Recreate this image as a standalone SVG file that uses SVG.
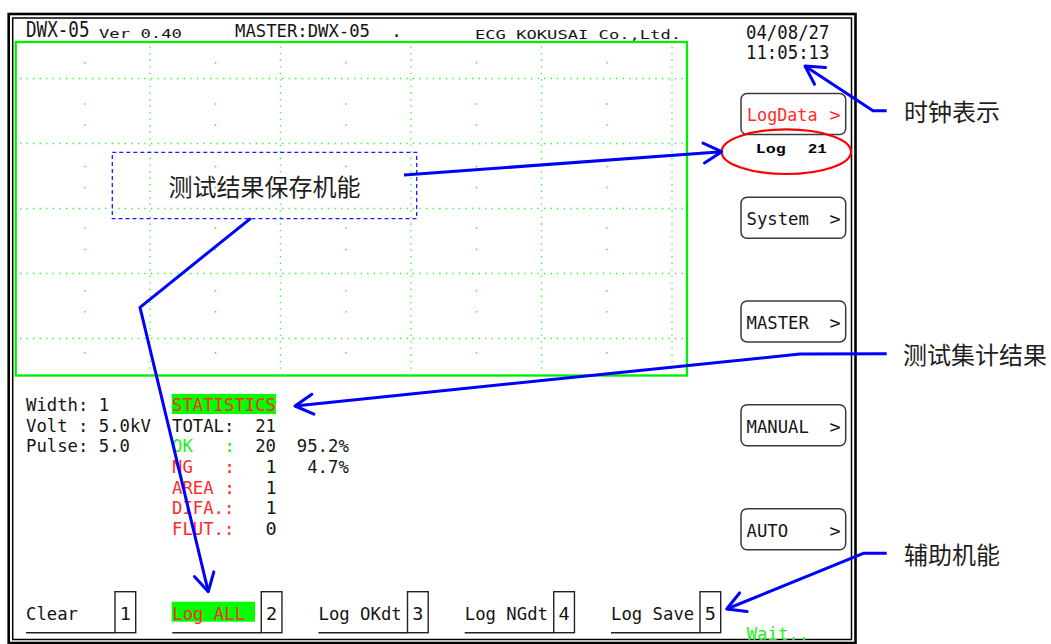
<svg xmlns="http://www.w3.org/2000/svg" width="1051" height="644" viewBox="0 0 1051 644">
  <style>
    .scr { font-family: "DejaVu Sans Mono", "Liberation Mono", monospace; font-size: 18.5px; fill: #151515; }
    .big { font-size: 21px; }
    .clk { font-size: 19px; }
    .small { font-size: 13px; }
    .co { font-size: 13px; }
    .red { fill: #ff2a2a; }
    .grn { fill: #22ee22; }
    .cnt { font-family: "Liberation Mono", monospace; font-weight: bold; font-size: 13.5px; fill: #000000; }
    .lbl { font-family: "Noto Sans CJK SC", "Noto Sans", sans-serif; font-size: 24px; fill: #1e1e1e; }
    .btn { fill: #ffffff; stroke: #3a3a3a; stroke-width: 1.5; }
    .key { fill: none; stroke: #222222; stroke-width: 1.4; }
    .grid { fill: none; stroke: #22ff22; stroke-width: 1.3; stroke-dasharray: 1.3 5.25; }
    .tick { fill: none; stroke: #22ff22; stroke-width: 1.4; }
    .conn { fill: none; stroke: #0000ff; stroke-width: 3; stroke-linejoin: round; marker-end: url(#open); }
  </style>
  <defs>
    <marker id="open" markerUnits="userSpaceOnUse" viewBox="-22 -13 26 26" markerWidth="26" markerHeight="26" refX="0" refY="0" orient="auto">
      <path d="M-18,-10 L0,0 L-18,10" fill="none" stroke="#0000ff" stroke-width="3" stroke-linejoin="round" stroke-linecap="round"/>
    </marker>
  </defs>

  <rect width="1051" height="644" fill="#ffffff"/>

  <!-- screen frame: double border -->
  <g id="frame">
    <rect x="8.7" y="14" width="846.8" height="629" fill="none" stroke="#000" stroke-width="2.6"/>
    <rect x="12.7" y="18" width="838.8" height="621.5" fill="none" stroke="#000" stroke-width="1.5"/>
  </g>

  <!-- header line -->
  <g id="header">
    <text class="scr big" x="26" y="37.3" textLength="63.5" lengthAdjust="spacingAndGlyphs">DWX-05</text>
    <text class="scr small" x="99" y="37.7" textLength="83" lengthAdjust="spacingAndGlyphs">Ver 0.40</text>
    <text class="scr" x="235" y="37" textLength="135" lengthAdjust="spacingAndGlyphs">MASTER:DWX-05</text>
    <text class="scr" x="391" y="37">.</text>
    <text class="scr co" x="475" y="39.3" textLength="206" lengthAdjust="spacingAndGlyphs">ECG KOKUSAI Co.,Ltd.</text>
  </g>

  <g id="clock">
    <text class="scr clk" x="746" y="39.3" textLength="83.5" lengthAdjust="spacingAndGlyphs">04/08/27</text>
    <text class="scr clk" x="746" y="59.3" textLength="83.5" lengthAdjust="spacingAndGlyphs">11:05:13</text>
  </g>

  <!-- waveform area -->
  <g id="waveform">
    <path class="grid" d="M20 78.5H686M20 143.5H686M20 208.5H686M20 273.5H686M20 338.5H686"/>
    <path class="grid" d="M150 46.5V373M280.5 46.5V373M411 46.5V373M541.5 46.5V373M672 46.5V373"/>
    <path class="tick" d="M84.3 62.7h1.4M84.3 104h1.4M84.3 125h1.4M84.3 166.5h1.4M84.3 187.5h1.4M84.3 228.3h1.4M84.3 249.5h1.4M84.3 290.7h1.4M84.3 311.7h1.4M84.3 352.7h1.4
      M214.8 62.7h1.4M214.8 104h1.4M214.8 125h1.4M214.8 166.5h1.4M214.8 187.5h1.4M214.8 228.3h1.4M214.8 249.5h1.4M214.8 290.7h1.4M214.8 311.7h1.4M214.8 352.7h1.4
      M345.3 62.7h1.4M345.3 104h1.4M345.3 125h1.4M345.3 166.5h1.4M345.3 187.5h1.4M345.3 228.3h1.4M345.3 249.5h1.4M345.3 290.7h1.4M345.3 311.7h1.4M345.3 352.7h1.4
      M475.8 62.7h1.4M475.8 104h1.4M475.8 125h1.4M475.8 166.5h1.4M475.8 187.5h1.4M475.8 228.3h1.4M475.8 249.5h1.4M475.8 290.7h1.4M475.8 311.7h1.4M475.8 352.7h1.4
      M606.3 62.7h1.4M606.3 104h1.4M606.3 125h1.4M606.3 166.5h1.4M606.3 187.5h1.4M606.3 228.3h1.4M606.3 249.5h1.4M606.3 290.7h1.4M606.3 311.7h1.4M606.3 352.7h1.4"/>
    <rect x="15.7" y="42" width="671.3" height="333.5" fill="none" stroke="#00ee00" stroke-width="2.3"/>
  </g>

  <!-- soft keys on the right -->
  <g id="key-logdata">
    <rect class="btn" x="741" y="93.5" width="104.7" height="41" rx="6"/>
    <text class="scr red" x="747" y="120.8" textLength="70.5" lengthAdjust="spacingAndGlyphs">LogData</text>
    <text class="scr red" x="829.5" y="120.8">&gt;</text>
  </g>
  <g id="log-count">
    <text class="cnt" x="755.7" y="153.3" textLength="30" lengthAdjust="spacingAndGlyphs">Log</text>
    <text class="cnt" x="807.7" y="153.3" textLength="19" lengthAdjust="spacingAndGlyphs">21</text>
    <ellipse cx="786.3" cy="151.7" rx="64.7" ry="22.3" fill="none" stroke="#ff0000" stroke-width="2.2"/>
  </g>
  <g id="key-system">
    <rect class="btn" x="741" y="197.3" width="104.7" height="41" rx="6"/>
    <text class="scr" x="746.5" y="224.6" textLength="62.4" lengthAdjust="spacingAndGlyphs">System</text>
    <text class="scr" x="829.5" y="224.6">&gt;</text>
  </g>
  <g id="key-master">
    <rect class="btn" x="741" y="300.9" width="104.7" height="41" rx="6"/>
    <text class="scr" x="746.5" y="328.8" textLength="62.4" lengthAdjust="spacingAndGlyphs">MASTER</text>
    <text class="scr" x="829.5" y="328.8">&gt;</text>
  </g>
  <g id="key-manual">
    <rect class="btn" x="741" y="404.7" width="104.7" height="41" rx="6"/>
    <text class="scr" x="746.5" y="432.6" textLength="62.4" lengthAdjust="spacingAndGlyphs">MANUAL</text>
    <text class="scr" x="829.5" y="432.6">&gt;</text>
  </g>
  <g id="key-auto">
    <rect class="btn" x="741" y="508.7" width="104.7" height="41" rx="6"/>
    <text class="scr" x="746.5" y="536.6" textLength="41.6" lengthAdjust="spacingAndGlyphs">AUTO</text>
    <text class="scr" x="829.5" y="536.6">&gt;</text>
  </g>

  <!-- test conditions -->
  <g id="conditions">
    <text class="scr" x="26" y="411" textLength="83.2" lengthAdjust="spacingAndGlyphs">Width: 1</text>
    <text class="scr" x="26" y="431.7" textLength="124.8" lengthAdjust="spacingAndGlyphs">Volt : 5.0kV</text>
    <text class="scr" x="26" y="452.3" textLength="104" lengthAdjust="spacingAndGlyphs">Pulse: 5.0</text>
  </g>

  <!-- statistics block -->
  <g id="statistics">
    <rect x="171.7" y="394" width="104.3" height="20" fill="#00ff00"/>
    <text class="scr red" x="172" y="411" textLength="104" lengthAdjust="spacingAndGlyphs">STATISTICS</text>
    <text class="scr" x="172" y="431.7" textLength="62.4" lengthAdjust="spacingAndGlyphs">TOTAL:</text>
    <text class="scr" x="255.2" y="431.7" textLength="20.8" lengthAdjust="spacingAndGlyphs">21</text>
    <text class="scr grn" x="172" y="452.3" textLength="20.8" lengthAdjust="spacingAndGlyphs">OK</text>
    <text class="scr grn" x="224" y="452.3">:</text>
    <text class="scr" x="255.2" y="452.3" textLength="20.8" lengthAdjust="spacingAndGlyphs">20</text>
    <text class="scr" x="296.8" y="452.3" textLength="52" lengthAdjust="spacingAndGlyphs">95.2%</text>
    <text class="scr red" x="172" y="473" textLength="20.8" lengthAdjust="spacingAndGlyphs">NG</text>
    <text class="scr red" x="224" y="473">:</text>
    <text class="scr" x="265.6" y="473">1</text>
    <text class="scr" x="307.2" y="473" textLength="41.6" lengthAdjust="spacingAndGlyphs">4.7%</text>
    <text class="scr red" x="172" y="493.7" textLength="41.6" lengthAdjust="spacingAndGlyphs">AREA</text>
    <text class="scr red" x="224" y="493.7">:</text>
    <text class="scr" x="265.6" y="493.7">1</text>
    <text class="scr red" x="172" y="514.3" textLength="62.4" lengthAdjust="spacingAndGlyphs">DIFA.:</text>
    <text class="scr" x="265.6" y="514.3">1</text>
    <text class="scr red" x="172" y="535" textLength="62.4" lengthAdjust="spacingAndGlyphs">FLUT.:</text>
    <text class="scr" x="265.6" y="535">0</text>
  </g>

  <!-- function keys along the bottom -->
  <g id="fkey-1">
    <text class="scr" x="26" y="619.5" textLength="52" lengthAdjust="spacingAndGlyphs">Clear</text>
    <line x1="26" y1="632.7" x2="115" y2="632.7" stroke="#222" stroke-width="1.4"/>
    <rect class="key" x="115" y="591.7" width="20.7" height="41"/>
    <text class="scr" x="125.3" y="619.5" text-anchor="middle">1</text>
  </g>
  <g id="fkey-2">
    <rect x="171.7" y="601.7" width="83.3" height="20" fill="#00ff00"/>
    <text class="scr red" x="172.25" y="619.5" textLength="72.8" lengthAdjust="spacingAndGlyphs">Log ALL</text>
    <line x1="172.25" y1="632.7" x2="261.25" y2="632.7" stroke="#222" stroke-width="1.4"/>
    <rect class="key" x="261.25" y="591.7" width="20.7" height="41"/>
    <text class="scr" x="271.6" y="619.5" text-anchor="middle">2</text>
  </g>
  <g id="fkey-3">
    <text class="scr" x="318.5" y="619.5" textLength="83.2" lengthAdjust="spacingAndGlyphs">Log OKdt</text>
    <line x1="318.5" y1="632.7" x2="407.5" y2="632.7" stroke="#222" stroke-width="1.4"/>
    <rect class="key" x="407.5" y="591.7" width="20.7" height="41"/>
    <text class="scr" x="417.85" y="619.5" text-anchor="middle">3</text>
  </g>
  <g id="fkey-4">
    <text class="scr" x="464.75" y="619.5" textLength="83.2" lengthAdjust="spacingAndGlyphs">Log NGdt</text>
    <line x1="464.75" y1="632.7" x2="553.75" y2="632.7" stroke="#222" stroke-width="1.4"/>
    <rect class="key" x="553.75" y="591.7" width="20.7" height="41"/>
    <text class="scr" x="564.1" y="619.5" text-anchor="middle">4</text>
  </g>
  <g id="fkey-5">
    <text class="scr" x="611" y="619.5" textLength="83.2" lengthAdjust="spacingAndGlyphs">Log Save</text>
    <line x1="611" y1="632.7" x2="700" y2="632.7" stroke="#222" stroke-width="1.4"/>
    <rect class="key" x="700" y="591.7" width="20.7" height="41"/>
    <text class="scr" x="710.35" y="619.5" text-anchor="middle">5</text>
  </g>
  <g id="status">
    <text class="scr grn" x="746.7" y="640" textLength="62.4" lengthAdjust="spacingAndGlyphs">Wait..</text>
  </g>

  <!-- callouts -->
  <g id="note-save">
    <rect x="112.3" y="152.3" width="304.4" height="66.4" fill="none" stroke="#1a1aff" stroke-width="1.3" stroke-dasharray="4 3"/>
    <text class="lbl" x="168.5" y="196.4">测试结果保存机能</text>
  </g>
  <g id="note-clock">
    <text class="lbl" x="904" y="121.4">时钟表示</text>
  </g>
  <g id="note-stats">
    <text class="lbl" x="903" y="364.1">测试集计结果</text>
  </g>
  <g id="note-aux">
    <text class="lbl" x="904" y="564.1">辅助机能</text>
  </g>

  <g id="connectors">
    <polyline class="conn" points="886.7,110.8 873,110.8 805,66"/>
    <polyline class="conn" points="404,175 721.7,151.7"/>
    <polyline class="conn" points="250.7,218.3 140,307.3 208.3,591.7"/>
    <polyline class="conn" points="886.7,353.8 800,354 295,406"/>
    <polyline class="conn" points="886.7,553.3 863.3,553.3 726.7,609"/>
  </g>
</svg>
